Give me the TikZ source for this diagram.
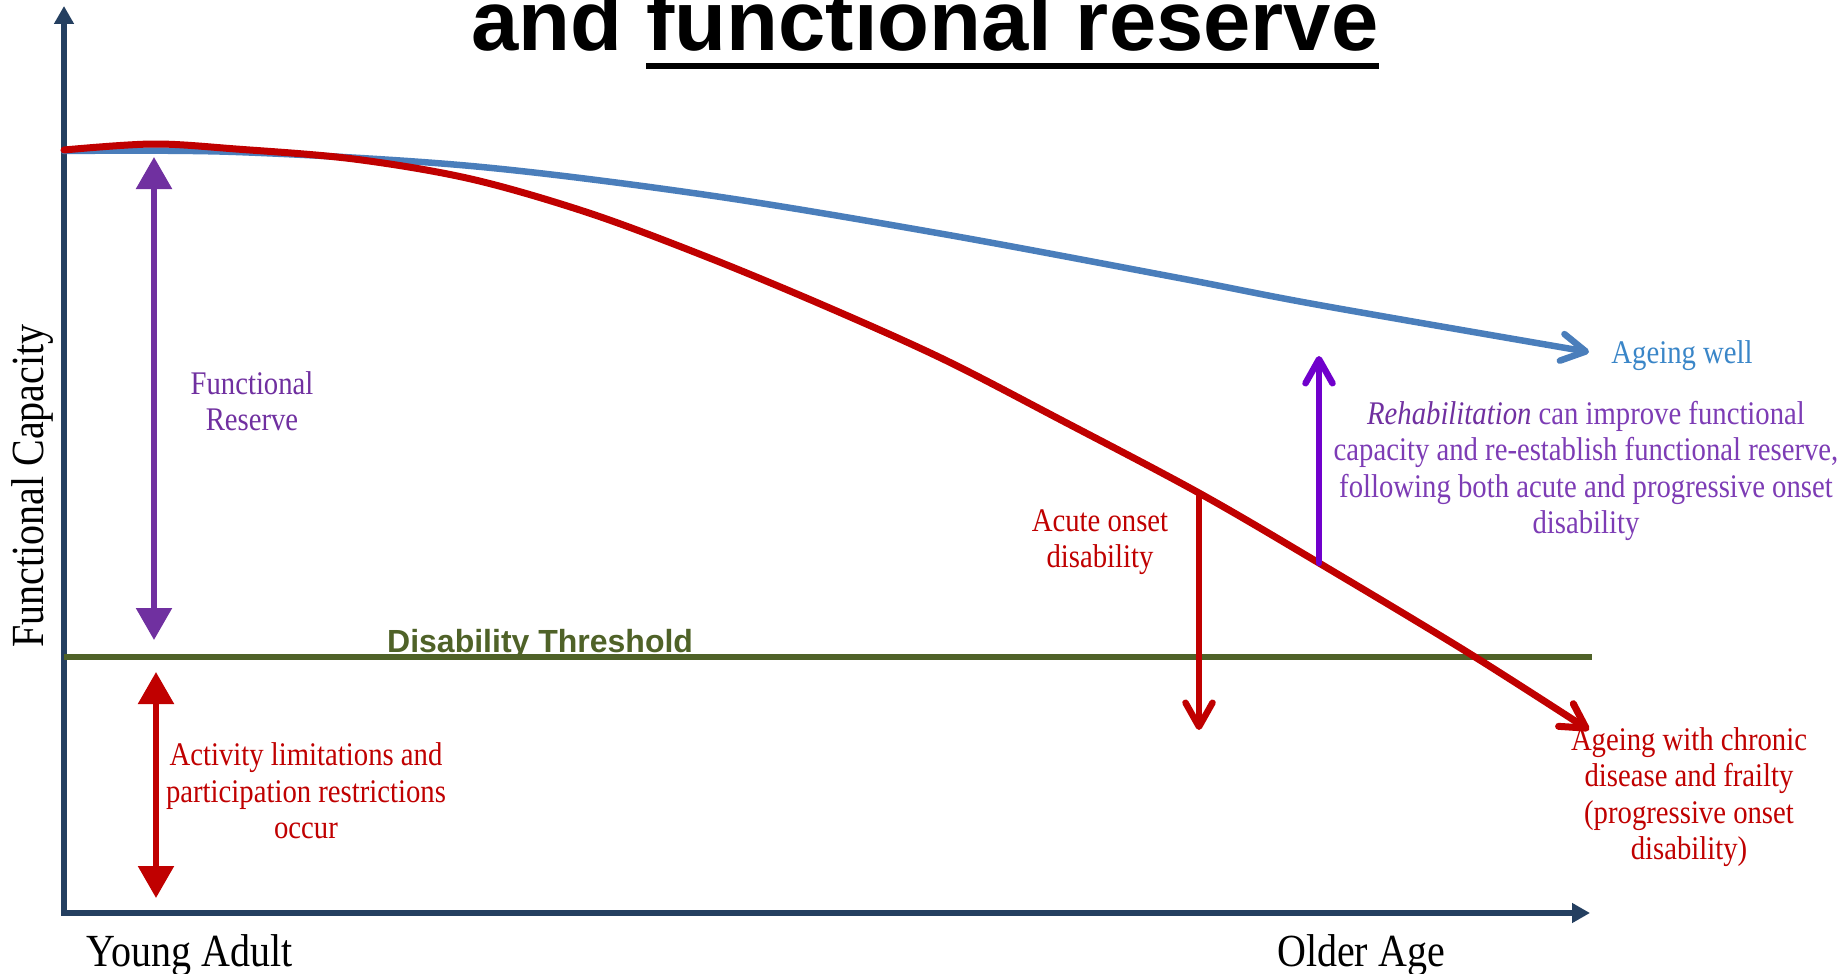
\documentclass[tikz,border=0pt]{standalone}
\usepackage{fontspec}
\usetikzlibrary{arrows.meta}
\newfontfamily\labfont{Liberation Serif}[FakeStretch=0.87]
\newfontfamily\hdfont{Liberation Sans}
\definecolor{axisblue}{HTML}{243F60}
\definecolor{curveblue}{HTML}{4A7EBB}
\definecolor{wellblue}{HTML}{3A86C8}
\definecolor{darkred}{HTML}{C00000}
\definecolor{frpurple}{HTML}{7030A0}
\definecolor{rehabviolet}{HTML}{7000CC}
\definecolor{rehabtext}{HTML}{7D3CB5}
\definecolor{threshgreen}{HTML}{4F6228}
\tikzset{
  titlefont/.style={font=\hdfont\bfseries\fontsize{85}{90}\selectfont, inner sep=0, anchor=base west},
  lbl/.style={font=\labfont\fontsize{33}{36.5}\selectfont, align=center, inner sep=0},
  biglbl/.style={font=\labfont\fontsize{46}{50}\selectfont, inner sep=0},
  axisline/.style={draw=axisblue, line width=6pt, line cap=rect, -{Triangle[length=18pt,width=19pt]}},
  barb/.style={-{Straight Barb[length=24pt,width=27pt,round]}, line cap=round},
  bothtri/.style={{Triangle[length=32pt,width=35pt]}-{Triangle[length=32pt,width=35pt]}, line width=5.5pt},
}
\begin{document}
\begin{tikzpicture}[x=1pt,y=-1pt]
\fill[white] (0,0) rectangle (1848,974);
\useasboundingbox (0,0) rectangle (1848,974);

% title
\node[titlefont] (tand) at (471,51) {and};
\node[titlefont] (tfr) at ([xshift=23.6pt]tand.base east) {functional reserve};
\draw[line width=6pt] ([yshift=-15pt]tfr.base west) -- ([yshift=-15pt]tfr.base east);

% axes
\coordinate (O) at (64,913);
\coordinate (Ytop) at (64,6);
\coordinate (Xend) at (1590,913);
\draw[axisline] (O) -- (Ytop);
\draw[axisline] (O) -- (Xend);

% disability threshold
\coordinate (Tl) at (64,657);
\coordinate (Tr) at (1592,657);
\draw[threshgreen, line width=6.5pt] (Tl) -- (Tr);
\node[font=\hdfont\bfseries\fontsize{32}{36}\selectfont, text=threshgreen, inner sep=0, anchor=base west] (thr) at (387,652) {Disability Threshold};

% curves
\draw[curveblue, line width=6.5pt, barb] plot[smooth, tension=0.55] coordinates {(64,151) (236,152) (471,166) (707,195) (943,234) (1179,278) (1319,305) (1589,352)};
\draw[darkred, line width=7pt, barb] plot[smooth, tension=0.55] coordinates {(64,150) (153,144) (236,149) (354,159) (471,179) (589,213) (707,257) (825,306) (943,359) (1061,420) (1199,493) (1319,563) (1467,652) (1589,730)};

% arrows from the decline curve
\coordinate (acute0) at (1199,493);
\coordinate (acuteEnd) at (1199,730);
\coordinate (rehab0) at (1319,563);
\coordinate (rehabEnd) at (1319,356);
\draw[darkred, line width=6.5pt, barb] (acute0) -- (acuteEnd);
\draw[rehabviolet, line width=6.5pt, barb] (rehab0) -- (rehabEnd);

% double arrows
\coordinate (FRtop) at (154,157);
\coordinate (FRbot) at (154,640);
\coordinate (ALtop) at (156,672);
\coordinate (ALbot) at (156,898);
\draw[frpurple, fill=frpurple, bothtri] (FRtop) -- (FRbot);
\draw[darkred, fill=darkred, bothtri] (ALtop) -- (ALbot);

% labels
\node[lbl, text=frpurple] (fr) at (252,401) {Functional\\Reserve};
\node[lbl, text=darkred] (al) at (306,791) {Activity limitations and\\participation restrictions\\occur};
\node[lbl, text=darkred] (ac) at (1100,542) {Acute onset\\disability};
\node[lbl, text=rehabtext] (rh) at (1586,471) {{\color{frpurple}\itshape Rehabilitation} can improve functional\\capacity and re-establish functional reserve,\\following both acute and progressive onset\\disability};
\node[lbl, text=wellblue] (aw) at (1682,356) {Ageing well};
\node[lbl, text=darkred] (ch) at (1689,797) {Ageing with chronic\\disease and frailty\\(progressive onset\\disability)};
\node[biglbl, rotate=90] (fc) at (33,486) {Functional Capacity};
\node[biglbl, anchor=base] (ya) at (190,966) {Young Adult};
\node[biglbl, anchor=base] (oa) at (1361,966) {Older Age};
\end{tikzpicture}
\end{document}
